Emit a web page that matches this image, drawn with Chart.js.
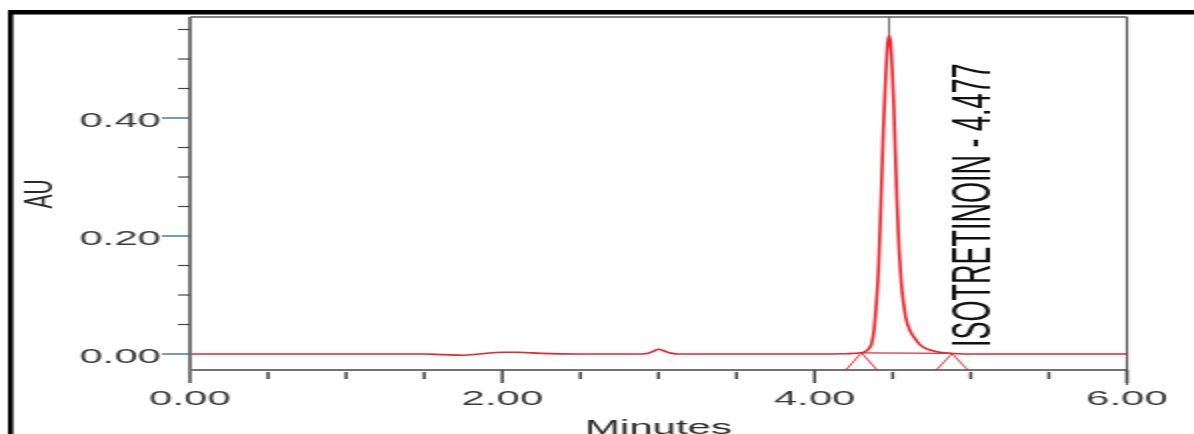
<!DOCTYPE html>
<html>
<head>
<meta charset="utf-8">
<title>Isotretinoin chromatogram</title>
<script src="https://cdn.jsdelivr.net/npm/chart.js@4.4.1/dist/chart.umd.min.js"></script>
<style>
  html, body { margin: 0; padding: 0; background: #fff; overflow: hidden; }
  /* the chart is drawn at half width and stretched 2x horizontally */
  #wrap { position: absolute; left: 0; top: 0; width: 597px; height: 434px;
          transform: scaleX(2); transform-origin: 0 0; }
  canvas { display: block; }
</style>
</head>
<body>
<div id="wrap"><canvas id="chrom" width="597" height="434"></canvas></div>
<script>
// Detector trace: retention time (min) and absorbance (AU)
const traceTime = [0.00, 0.80, 1.50, 1.62, 1.75, 1.85, 2.00, 2.10, 2.25, 2.50, 2.85, 2.93, 2.97, 3.00,
  3.03, 3.07, 3.12, 3.50, 4.00, 4.20, 4.30, 4.33, 4.35, 4.365, 4.38, 4.395, 4.41, 4.425, 4.44,
  4.455, 4.467, 4.477, 4.487, 4.497, 4.507, 4.517, 4.527, 4.54, 4.555, 4.57, 4.585, 4.61, 4.64,
  4.67, 4.70, 4.75, 4.80, 4.88, 4.95, 5.50, 6.00];
const traceAU = [0.000, 0.000, 0.000, -0.001, -0.002, 0.000, 0.003, 0.003, 0.001, 0.000, 0.000, 0.001, 0.005, 0.008,
  0.006, 0.002, 0.000, 0.000, 0.000, 0.0005, 0.002, 0.005, 0.010, 0.018, 0.040, 0.085, 0.15, 0.26, 0.38,
  0.47, 0.525, 0.540, 0.525, 0.48, 0.42, 0.34, 0.26, 0.18, 0.12, 0.085, 0.060, 0.040, 0.027,
  0.017, 0.011, 0.006, 0.003, 0.001, 0.000, 0.000, 0.000];

// Integrated peak
const peakName = 'ISOTRETINOIN';
const peakTime = 4.477;
const peakApexAU = 0.540;
const peakStart = 4.30;
const peakEnd = 4.88;
const peakStartAU = 0.002;
const peakEndAU = 0.001;

// Axes
const xMin = 0, xMax = 6;
const yMin = -0.0271, yMax = 0.5712;
const xMajorTicks = [0, 2, 4, 6];
const xTickLabels = ['0.00', '2.00', '4.00', '6.00'];
const xMinorTicks = [0.5, 1, 1.5, 2.5, 3, 3.5, 4.5, 5, 5.5];
const yMajorTicks = [0, 0.2, 0.4];
const yTickLabels = ['0.00', '0.20', '0.40'];
const yMinorTicks = [0.05, 0.1, 0.15, 0.25, 0.3, 0.35, 0.45, 0.5, 0.55];
const xTitle = 'Minutes';
const yTitle = 'AU';

const tracePoints = traceTime.map((t, i) => ({ x: t, y: traceAU[i] }));
const markerHalf = 0.1;
const startMarker = [
  { x: peakStart - markerHalf, y: yMin }, { x: peakStart, y: peakStartAU }, { x: peakStart + markerHalf, y: yMin }
];
const endMarker = [
  { x: peakEnd - markerHalf, y: yMin }, { x: peakEnd, y: peakEndAU }, { x: peakEnd + markerHalf, y: yMin }
];
const dropBaseline = [{ x: peakStart, y: peakStartAU }, { x: peakEnd, y: peakEndAU }];
const apexLine = [{ x: peakTime, y: peakApexAU }, { x: peakTime, y: yMax }];

const FONT = '"Liberation Sans", Arial, sans-serif';

const framePlugin = {
  id: 'chromFrame',
  beforeDraw(chart) {
    const c = chart.ctx;
    c.save();
    c.fillStyle = '#ffffff';
    c.fillRect(0, 0, chart.width, chart.height);
    c.restore();
  },
  afterDraw(chart) {
    const c = chart.ctx, xs = chart.scales.x, ys = chart.scales.y, a = chart.chartArea;
    const seg = (x1, y1, x2, y2) => { c.beginPath(); c.moveTo(x1, y1); c.lineTo(x2, y2); c.stroke(); };
    c.save();

    // outer black border (top and left)
    c.fillStyle = '#000';
    c.fillRect(4, 10, chart.width - 4, 4.5);
    c.fillRect(4, 10, 2.6, chart.height - 10);

    // plot frame: top and right edges
    c.strokeStyle = '#555';
    c.lineWidth = 1.5;
    seg(a.left, a.top, a.right, a.top);
    c.lineWidth = 1.2;
    seg(a.right, a.top, a.right, a.bottom + 15);

    // x axis line and ticks
    c.strokeStyle = '#444';
    c.lineWidth = 1.5;
    seg(a.left, a.bottom, a.right, a.bottom);
    xMinorTicks.forEach(v => { const px = xs.getPixelForValue(v); seg(px, a.bottom + 2, px, a.bottom + 9); });
    xMajorTicks.forEach(v => { const px = xs.getPixelForValue(v); seg(px, a.bottom, px, a.bottom + 13); });

    // y axis line
    c.strokeStyle = '#777';
    c.lineWidth = 2;
    seg(a.left, a.top, a.left, a.bottom + 13);

    // y ticks
    c.strokeStyle = '#444';
    c.lineWidth = 1.2;
    yMinorTicks.forEach(v => { const py = ys.getPixelForValue(v); seg(a.left - 6, py, a.left, py); });
    c.strokeStyle = '#3d6ea6';
    c.lineWidth = 1.4;
    yMajorTicks.forEach(v => { const py = ys.getPixelForValue(v); seg(a.left - 14, py, a.left, py); });

    // tick labels
    c.fillStyle = '#3a3a3a';
    c.font = '21px ' + FONT;
    c.textAlign = 'right';
    c.textBaseline = 'alphabetic';
    yMajorTicks.forEach((v, i) => c.fillText(yTickLabels[i], a.left - 14.5, ys.getPixelForValue(v) + 9));
    c.textAlign = 'center';
    xMajorTicks.forEach((v, i) => c.fillText(xTickLabels[i], xs.getPixelForValue(v), a.bottom + 35));

    // axis titles
    c.fillStyle = '#2a2a2a';
    c.fillText(xTitle, (a.left + a.right) / 2, 434);
    c.save();
    c.translate(26, 194);
    c.rotate(-Math.PI / 2);
    c.textAlign = 'center';
    c.fillText(yTitle, 0, 0);
    c.restore();

    // peak annotation
    c.save();
    c.fillStyle = '#111';
    c.font = '27px ' + FONT;
    c.translate(xs.getPixelForValue(peakTime) + 50.5, ys.getPixelForValue(0) - 7);
    c.rotate(-Math.PI / 2);
    c.textAlign = 'left';
    c.fillText(peakName + ' - ' + peakTime.toFixed(3), 0, 0);
    c.restore();

    c.restore();
  }
};

new Chart(document.getElementById('chrom'), {
  type: 'line',
  data: {
    datasets: [
      { data: apexLine, borderColor: '#6a6a6a', borderWidth: 1, pointRadius: 0, order: 3 },
      { data: dropBaseline, borderColor: '#e0303a', borderWidth: 1.3, pointRadius: 0, order: 2 },
      { data: startMarker, borderColor: '#d8444c', borderWidth: 1, pointRadius: 0, order: 2 },
      { data: endMarker, borderColor: '#d8444c', borderWidth: 1, pointRadius: 0, order: 2 },
      { data: tracePoints, borderColor: '#e8242c', borderWidth: 1.6, pointRadius: 0,
        cubicInterpolationMode: 'monotone', order: 1 }
    ]
  },
  options: {
    responsive: false,
    animation: false,
    devicePixelRatio: 1,
    events: [],
    layout: { padding: { left: 95, right: 33.5, top: 17, bottom: 64 } },
    plugins: { legend: { display: false }, tooltip: { enabled: false } },
    scales: {
      x: { type: 'linear', min: xMin, max: xMax, display: false },
      y: { type: 'linear', min: yMin, max: yMax, display: false }
    }
  },
  plugins: [framePlugin]
});
</script>
</body>
</html>
